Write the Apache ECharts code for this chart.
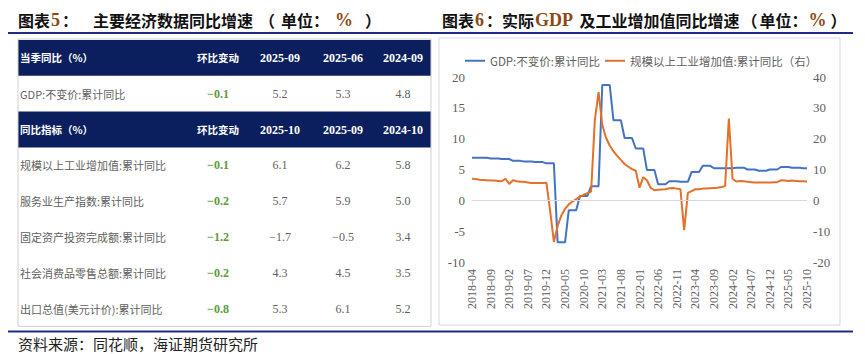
<!DOCTYPE html>
<html>
<head>
<meta charset="utf-8">
<script src="https://cdn.jsdelivr.net/npm/echarts@6.0.0/dist/echarts.min.js"></script>
<style>
  html, body { margin: 0; padding: 0; background: #fff; }
  #main { width: 865px; height: 354px; }
</style>
</head>
<body>
<div id="main"></div>
<script>
// ---- table data (图表5) ----
const head1 = ["当季同比（%）", "环比变动", "2025-09", "2025-06", "2024-09"];
const quarterNames = ["GDP:不变价:累计同比"];
const quarterChange = [-0.1];
const quarterCur = [5.2];
const quarterPrev = [5.3];
const quarterLastYear = [4.8];

const head2 = ["同比指标（%）", "环比变动", "2025-10", "2025-09", "2024-10"];
const monthNames = [
    "规模以上工业增加值:累计同比",
    "服务业生产指数:累计同比",
    "固定资产投资完成额:累计同比",
    "社会消费品零售总额:累计同比",
    "出口总值(美元计价):累计同比",
];
const monthChange = [-0.1, -0.2, -1.2, -0.2, -0.8];
const monthCur = [6.1, 5.7, -1.7, 4.3, 5.3];
const monthPrev = [6.2, 5.9, -0.5, 4.5, 6.1];
const monthLastYear = [5.8, 5.0, 3.4, 3.5, 5.2];

// ---- chart data (图表6), monthly 2018-04 .. 2025-10 ----
const months = [];
for (let y = 2018; y <= 2025; y++) {
    for (let m = 1; m <= 12; m++) {
        if (y === 2018 && m < 4) continue;
        if (y === 2025 && m > 10) break;
        months.push(y + "-" + String(m).padStart(2, "0"));
    }
}

const gdp = [
    6.9, 6.9, 6.9, 6.9, 6.9, 6.8, 6.8, 6.8, 6.7,
    6.7, 6.7, 6.4, 6.4, 6.4, 6.3, 6.3, 6.3, 6.2, 6.2, 6.2, 6.0,
    6.0, 6.0, -6.8, -6.8, -6.8, -1.6, -1.6, -1.6, 0.7, 0.7, 0.7, 2.3,
    2.3, 2.3, 18.7, 18.7, 18.7, 13.0, 13.0, 13.0, 10.1, 10.1, 10.1, 8.4,
    8.4, 8.4, 4.9, 4.9, 4.9, 2.6, 2.6, 2.6, 3.1, 3.1, 3.1, 3.0,
    3.0, 3.0, 4.6, 4.6, 4.6, 5.6, 5.6, 5.6, 5.2, 5.2, 5.2, 5.2,
    5.2, 5.2, 5.3, 5.3, 5.3, 5.0, 5.0, 5.0, 4.8, 4.8, 4.8, 5.0,
    5.0, 5.0, 5.4, 5.4, 5.4, 5.3, 5.3, 5.3, 5.2, 5.2,
];

const industry = [
    7.0, 6.9, 6.7, 6.6, 6.5, 6.4, 6.4, 6.3, 6.2,
    7.0, 5.3, 6.5, 6.2, 6.0, 6.0, 5.8, 5.6, 5.6, 5.6, 5.6, 5.7,
    -3.5, -13.5, -8.4, -4.9, -2.8, -1.3, -0.4, 0.4, 1.2, 1.8, 2.3, 2.8,
    26.0, 35.1, 24.5, 20.3, 17.8, 15.9, 14.4, 13.1, 11.8, 10.9, 10.1, 9.6,
    4.1, 7.5, 6.5, 4.0, 3.3, 3.4, 3.5, 3.6, 3.9, 4.0, 3.8, 3.6,
    -9.7, 2.4, 3.0, 3.6, 3.6, 3.8, 3.8, 3.9, 4.0, 4.1, 4.3, 4.6,
    26.5, 7.0, 6.1, 6.3, 6.2, 6.0, 5.9, 5.8, 5.8, 5.8, 5.8, 5.8,
    5.9, 5.9, 6.5, 6.4, 6.3, 6.4, 6.3, 6.2, 6.2, 6.1,
];

const navy = "#0b1f5e";
const lineNavy = "#1f2a88";
const grey = "#5f5f5f";
const green = "#5d9a3d";
const cjk = "'Noto Sans CJK SC', sans-serif";
const serif = "'Liberation Serif', 'DejaVu Serif', serif";

const fmt = (v) => (v < 0 ? "\u2212" + Math.abs(v).toFixed(1) : v.toFixed(1));

// ---- table as graphic elements ----
const tLeft = 18, tRight = 431, tTop = 40, rowH = 35.8;
const colX = [20, 218, 280, 343, 403];
const graphics = [];

const addHeader = (row, cells) => {
    const y = tTop + row * rowH;
    graphics.push({ type: "rect", shape: { x: tLeft, y: y, width: tRight - tLeft, height: rowH }, style: { fill: navy } });
    cells.forEach((c, i) => {
        graphics.push({
            type: "text",
            style: {
                text: c, x: colX[i], y: y + rowH / 2,
                textAlign: i === 0 ? "left" : "center", textVerticalAlign: "middle",
                fill: "#fff",
                font: i < 2 ? "bold 10.5px " + cjk : "bold 12px " + serif,
            },
        });
    });
};

const addRow = (row, name, change, vals) => {
    const y = tTop + row * rowH + rowH / 2;
    graphics.push({ type: "text", style: { text: name, x: colX[0], y: y, textAlign: "left", textVerticalAlign: "middle", fill: grey, font: "11px " + cjk } });
    graphics.push({ type: "text", style: { text: fmt(change), x: colX[1], y: y, textAlign: "center", textVerticalAlign: "middle", fill: green, font: "bold 12px " + serif } });
    vals.forEach((v, i) => {
        graphics.push({ type: "text", style: { text: fmt(v), x: colX[i + 2], y: y, textAlign: "center", textVerticalAlign: "middle", fill: grey, font: "12px " + serif } });
    });
};

addHeader(0, head1);
quarterNames.forEach((n, i) => addRow(1 + i, n, quarterChange[i], [quarterCur[i], quarterPrev[i], quarterLastYear[i]]));
addHeader(2, head2);
monthNames.forEach((n, i) => addRow(3 + i, n, monthChange[i], [monthCur[i], monthPrev[i], monthLastYear[i]]));

// borders and rules
graphics.push({ type: "rect", shape: { x: tLeft, y: tTop - 1, width: tRight - tLeft, height: rowH * 8 + 1 }, style: { fill: "none", stroke: "#d0d0d0", lineWidth: 1 } });
graphics.push({ type: "rect", shape: { x: 439, y: 38, width: 401, height: 287 }, style: { fill: "none", stroke: "#d9d9d9", lineWidth: 1 } });
graphics.push({ type: "line", shape: { x1: 8, y1: 33, x2: 853, y2: 33 }, style: { stroke: lineNavy, lineWidth: 2 } });
graphics.push({ type: "line", shape: { x1: 8, y1: 331.5, x2: 853, y2: 331.5 }, style: { stroke: lineNavy, lineWidth: 2 } });

const titleRich = {
    a: { fontFamily: cjk, fontWeight: "bold", fontSize: 16, color: "#111", lineHeight: 18 },
    k: { fontFamily: cjk, fontWeight: "bold", fontSize: 16, color: "#111", lineHeight: 18, padding: [0, 2, 0, 2] },
    w: { fontFamily: cjk, fontWeight: "bold", fontSize: 16, color: "#111", lineHeight: 18, padding: [0, 6, 0, 6] },
    b: { fontFamily: serif, fontWeight: "bold", fontSize: 18, color: "#8b4a12", lineHeight: 18, padding: [0, 2, 0, 1] },
    c: { fontFamily: serif, fontWeight: "bold", fontSize: 18, color: "#8b4a12", lineHeight: 18, padding: [0, 6, 0, 6] },
};

const chart = echarts.init(document.getElementById("main"), null, { renderer: "svg" });
chart.setOption({
    animation: false,
    title: [
        { text: "{a|图表}{b|5}{a|：}", left: 18, top: 11, padding: 0, textStyle: { rich: titleRich } },
        { text: "{a|主要经济数据同比增速}{w|（}{a|单位：}{c|%}{w|）}", left: 93, top: 11, padding: 0, textStyle: { rich: titleRich } },
        { text: "{a|图表}{b|6}{a|：实际}{b|GDP }{a|及工业增加值同比增速}{k|（}{a|单位：}{b|%}{k|）}", left: 442, top: 11, padding: 0, textStyle: { rich: titleRich } },
        { text: "资料来源：同花顺，海证期货研究所", left: 18, top: 336, padding: 0,
          textStyle: { fontFamily: cjk, fontSize: 15, fontWeight: "normal", color: "#222", lineHeight: 15 } },
    ],
    graphic: graphics,
    legend: {
        left: 460, top: 50, icon: "rect", itemWidth: 20, itemHeight: 2, itemGap: 5,
        textStyle: { fontFamily: cjk, fontSize: 11.5, color: grey },
        data: ["GDP:不变价:累计同比", "规模以上工业增加值:累计同比（右）"],
    },
    grid: { left: 472, right: 58, top: 77, bottom: 92 },
    xAxis: {
        type: "category", data: months, boundaryGap: false,
        axisLine: { show: false }, axisTick: { show: false },
        axisLabel: { interval: 4, rotate: 90, margin: 7, fontFamily: serif, fontSize: 12, color: grey },
    },
    yAxis: [
        {
            type: "value", min: -10, max: 20, interval: 5,
            splitLine: { show: false }, axisLine: { show: false }, axisTick: { show: false },
            axisLabel: { margin: 7, fontFamily: serif, fontSize: 13, color: grey },
        },
        {
            type: "value", min: -20, max: 40, interval: 10, position: "right",
            splitLine: { show: false }, axisLine: { show: false }, axisTick: { show: false },
            axisLabel: { margin: 6, fontFamily: serif, fontSize: 13, color: grey },
        },
    ],
    series: [
        {
            name: "GDP:不变价:累计同比", type: "line", data: gdp, yAxisIndex: 0,
            symbol: "none", color: "#4472c4", lineStyle: { width: 2 },
            markLine: {
                silent: true, symbol: "none", label: { show: false },
                lineStyle: { color: "#d9d9d9", type: "solid", width: 1 },
                data: [{ yAxis: 0 }],
            },
        },
        {
            name: "规模以上工业增加值:累计同比（右）", type: "line", data: industry, yAxisIndex: 1,
            symbol: "none", color: "#e3702b", lineStyle: { width: 2 },
        },
    ],
});
</script>
</body>
</html>
